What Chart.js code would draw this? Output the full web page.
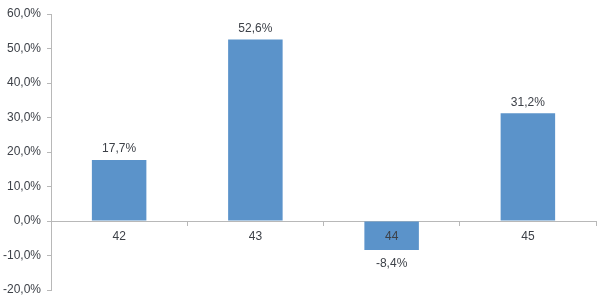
<!DOCTYPE html>
<html>
<head>
<meta charset="utf-8">
<script src="https://cdn.jsdelivr.net/npm/chart.js@4/dist/chart.umd.min.js"></script>
<style>
  html, body { margin: 0; padding: 0; background: #fff; }
  #wrap { width: 600px; height: 300px; }
</style>
</head>
<body>
<div id="wrap"><canvas id="growthChart"></canvas></div>
<script>
// data
const weeks = ['42', '43', '44', '45'];
const growth = [17.7, 52.6, -8.4, 31.2];
const yMin = -20;
const yMax = 60;
const yStep = 10;

const pct = v => v.toFixed(1).replace('.', ',') + '%';

// draws the value above (or below, when negative) each bar
const barValueLabels = {
  id: 'barValueLabels',
  afterDatasetsDraw(chart) {
    const ctx = chart.ctx;
    const meta = chart.getDatasetMeta(0);
    ctx.save();
    ctx.font = '12px "Liberation Sans", Arial, sans-serif';
    ctx.fillStyle = '#3d4148';
    ctx.textAlign = 'center';
    ctx.textBaseline = 'middle';
    meta.data.forEach((bar, i) => {
      const v = growth[i];
      const y = v >= 0 ? bar.y - 11 : bar.y + 14;
      ctx.fillText(pct(v), bar.x, y);
    });
    ctx.restore();
  }
};

const ctx = document.getElementById('growthChart').getContext('2d');

new Chart(ctx, {
  type: 'bar',
  data: {
    labels: weeks,
    datasets: [{
      data: growth,
      backgroundColor: '#5b93ca',
      borderWidth: 0,
      barPercentage: 0.4,
      categoryPercentage: 1
    }]
  },
  options: {
    responsive: true,
    maintainAspectRatio: false,
    animation: false,
    layout: { padding: { top: 14, right: 4, bottom: 10, left: 0 } },
    plugins: {
      legend: { display: false },
      tooltip: { enabled: false }
    },
    scales: {
      x: {
        position: { y: 0 },
        offset: true,
        grid: {
          offset: true,
          drawOnChartArea: false,
          tickLength: 4,
          color: '#b8b8b8'
        },
        border: { color: '#b8b8b8' },
        ticks: {
          z: 1,
          padding: 4,
          color: '#3d4148',
          font: { family: '"Liberation Sans", Arial, sans-serif', size: 12 }
        }
      },
      y: {
        min: yMin,
        max: yMax,
        // fixed axis width, and let layout padding decide the plot's top/bottom
        afterFit: s => {
          s.width = 51;
          s.paddingTop = 0;
          s.paddingBottom = 0;
        },
        grid: {
          drawOnChartArea: false,
          tickLength: 4,
          color: '#b8b8b8'
        },
        border: { color: '#b8b8b8' },
        ticks: {
          stepSize: yStep,
          padding: 6,
          color: '#3d4148',
          font: { family: '"Liberation Sans", Arial, sans-serif', size: 12 },
          callback: v => pct(v)
        }
      }
    }
  },
  plugins: [barValueLabels]
});
</script>
</body>
</html>
